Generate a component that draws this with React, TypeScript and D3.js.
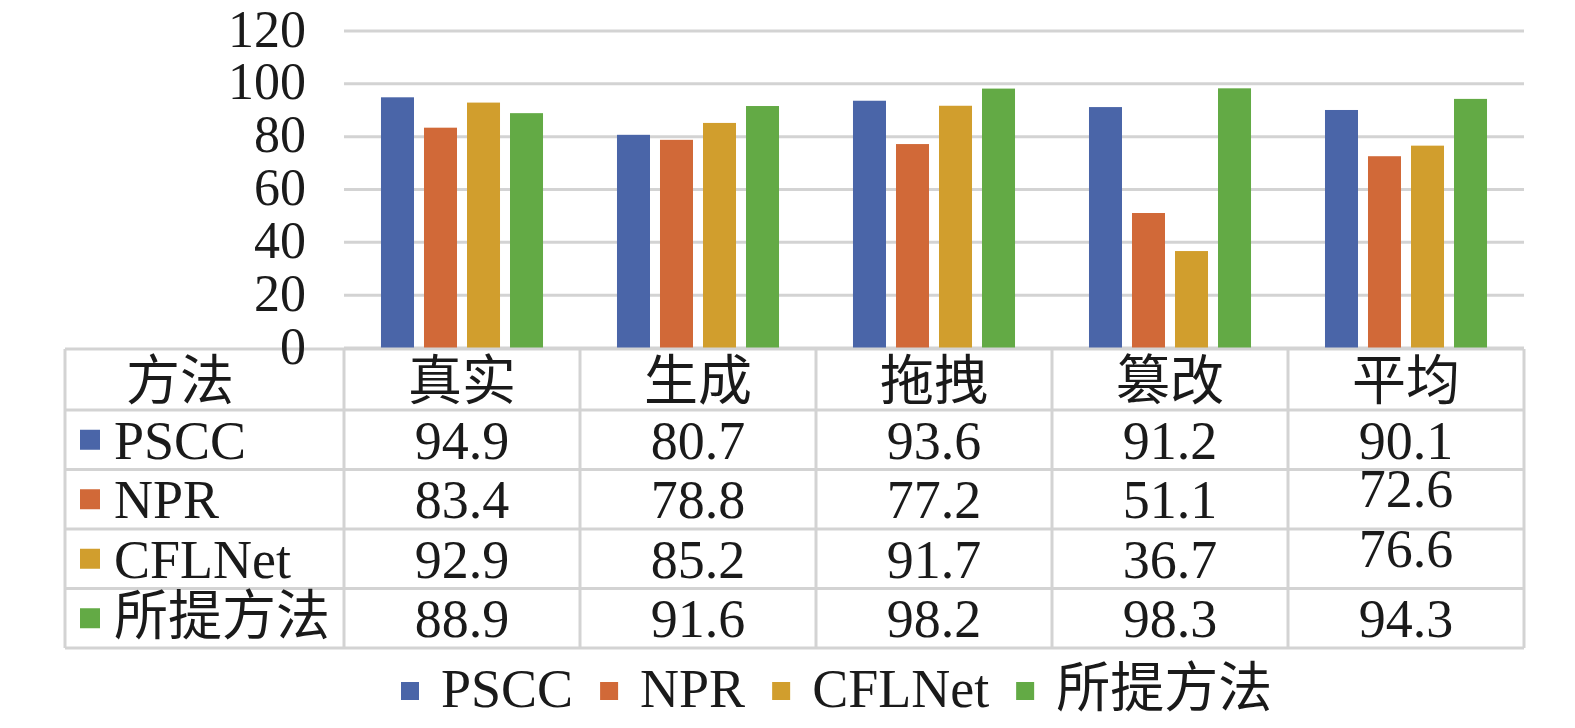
import React from 'react';
import * as d3 from 'd3';

const categories = ['真实', '生成', '拖拽', '篡改', '平均'];
const seriesNames = ['PSCC', 'NPR', 'CFLNet', '所提方法'];
const psccValues = [94.9, 80.7, 93.6, 91.2, 90.1];
const nprValues = [83.4, 78.8, 77.2, 51.1, 72.6];
const cflnetValues = [92.9, 85.2, 91.7, 36.7, 76.6];
const oursValues = [88.9, 91.6, 98.2, 98.3, 94.3];
const yTicks = [0, 20, 40, 60, 80, 100, 120];
const tableHeader = '方法';

const seriesValues = [psccValues, nprValues, cflnetValues, oursValues];
const colors = ['#4a65a8', '#d16938', '#d19e2d', '#63aa45'];

const W = 1575;
const H = 728;
const FONT = "'Liberation Serif', 'Times New Roman', 'Noto Sans CJK SC', serif";
const TEXT = '#1a1a1a';
const GRID = '#d3d3d3';

function measure(text: string, size: number): number {
  const c = document.createElement('canvas').getContext('2d');
  if (!c) return text.length * size * 0.6;
  c.font = `${size}px ${FONT}`;
  return c.measureText(text).width;
}

export default function App() {
  const tableLeft = 65;
  const plotLeft = 344;
  const plotRight = 1524;
  const x = d3.scaleBand<string>().domain(categories).range([plotLeft, plotRight]);
  const xi = d3
    .scaleBand<string>()
    .domain(seriesNames)
    .range([0, x.bandwidth()])
    .paddingInner(10 / 43)
    .paddingOuter(0.86);
  const y = d3.scaleLinear().domain([0, 120]).range([348, 31]);

  const rowEdges = [349, 410, 469.5, 529, 588.5, 648];
  const colEdges = [tableLeft, ...categories.map((c) => x(c) as number), plotRight];

  // legend layout
  const legendStart = 401;
  const legendSize = 54;
  let cursor = legendStart;
  const legendItems = seriesNames.map((name, i) => {
    const sq = cursor;
    const tx = sq + 40;
    const w = measure(name, legendSize);
    cursor = tx + w + 27;
    return { name, sq, tx, color: colors[i] };
  });

  return (
    <svg
      width={W}
      height={H}
      style={{ position: 'absolute', left: 0, top: 0, background: '#fff' }}
      fontFamily={FONT}
    >
      <rect x={0} y={0} width={W} height={H} fill="#fff" />
      {/* gridlines */}
      {yTicks.map((t) => (
        <line
          key={'g' + t}
          x1={plotLeft}
          x2={plotRight}
          y1={y(t)}
          y2={y(t)}
          stroke={GRID}
          strokeWidth={3}
        />
      ))}
      {/* bars */}
      {categories.map((c, ci) =>
        seriesNames.map((s, si) => {
          const v = seriesValues[si][ci];
          const bx = (x(c) as number) + (xi(s) as number);
          return (
            <rect
              key={c + s}
              x={bx}
              y={y(v)}
              width={xi.bandwidth()}
              height={y(0) - y(v)}
              fill={colors[si]}
            />
          );
        })
      )}
      {/* table lines */}
      {rowEdges.map((ry, i) => (
        <line
          key={'r' + i}
          x1={tableLeft}
          x2={plotRight}
          y1={ry}
          y2={ry}
          stroke={GRID}
          strokeWidth={3}
        />
      ))}
      {colEdges.map((cx, i) => (
        <line
          key={'c' + i}
          x1={cx}
          x2={cx}
          y1={rowEdges[0]}
          y2={rowEdges[rowEdges.length - 1]}
          stroke={GRID}
          strokeWidth={3}
        />
      ))}
      {/* y tick labels */}
      {yTicks.map((t) => (
        <text
          key={'t' + t}
          x={306}
          y={y(t) - 2}
          textAnchor="end"
          dominantBaseline="central"
          fontSize={52}
          fill={TEXT}
        >
          {t}
        </text>
      ))}
      {/* header row */}
      <text x={126} y={400} fontSize={54} fill={TEXT}>
        {tableHeader}
      </text>
      {categories.map((c) => (
        <text
          key={'h' + c}
          x={(x(c) as number) + x.bandwidth() / 2}
          y={400}
          textAnchor="middle"
          fontSize={54}
          fill={TEXT}
        >
          {c}
        </text>
      ))}
      {/* series rows */}
      {seriesNames.map((s, si) => {
        const top = rowEdges[si + 1];
        const bottom = rowEdges[si + 2];
        const base = bottom - 11;
        const isCJK = /[\u4e00-\u9fff]/.test(s);
        return (
          <g key={'row' + s}>
            <rect x={80} y={(top + bottom) / 2 - 10} width={20} height={20} fill={colors[si]} />
            <text x={114} y={isCJK ? base - 2 : base} fontSize={54} fill={TEXT}>
              {s}
            </text>
            {categories.map((c, ci) => {
              const shift = ci === 4 && (si === 1 || si === 2) ? -11 : 0;
              return (
                <text
                  key={'v' + s + c}
                  x={(x(c) as number) + x.bandwidth() / 2}
                  y={base + shift}
                  textAnchor="middle"
                  fontSize={54}
                  fill={TEXT}
                >
                  {seriesValues[si][ci].toFixed(1)}
                </text>
              );
            })}
          </g>
        );
      })}
      {/* legend */}
      {legendItems.map((it) => (
        <g key={'lg' + it.name}>
          <rect x={it.sq} y={682} width={18} height={18} fill={it.color} />
          <text x={it.tx} y={707} fontSize={legendSize} fill={TEXT}>
            {it.name}
          </text>
        </g>
      ))}
    </svg>
  );
}
